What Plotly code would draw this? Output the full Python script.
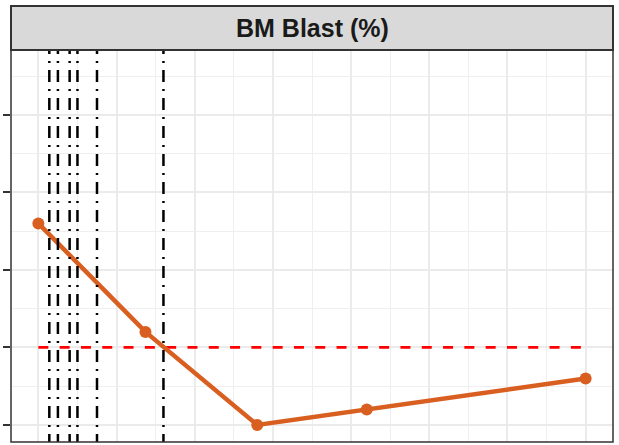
import plotly.graph_objects as go

# Data
days = [0, 137, 280, 420, 700]
bm_blast = [13, 6, 0, 1, 3]
threshold_x = [0, 700]
threshold_y = [5, 5]
event_days = [14, 25, 40, 50, 75, 160]
facet_title = "BM Blast (%)"

W, H = 619, 445
ml, mr, mt, mb = 11, 6, 50, 3
plot_h = H - mt - mb
strip_top = 6
strip_y1 = 1 + (mt - strip_top) / plot_h

orange = "#D95F20"

fig = go.Figure()

# red threshold line
fig.add_trace(go.Scatter(
    x=threshold_x, y=threshold_y, mode="lines",
    line=dict(color="#FF0000", width=2.8, dash="10px,11.3px"),
    hoverinfo="skip", showlegend=False))

# main series
fig.add_trace(go.Scatter(
    x=days, y=bm_blast, mode="lines+markers",
    line=dict(color=orange, width=4.5),
    marker=dict(color=orange, size=12, line=dict(width=0)),
    showlegend=False))

# vertical event lines (dot-dash), extended beyond the panel and clipped
vx, vy = [], []
for d in event_days:
    vx += [d, d, None]
    vy += [27.1, -3, None]
fig.add_trace(go.Scatter(
    x=vx, y=vy, mode="lines",
    line=dict(color="#000000", width=2.5, dash="2px,7px,12px,7px"),
    hoverinfo="skip", showlegend=False))

fig.update_layout(
    width=W, height=H,
    margin=dict(l=ml, r=mr, t=mt, b=mb),
    paper_bgcolor="white", plot_bgcolor="white",
    font=dict(family="Liberation Sans, Arial, sans-serif"),
    showlegend=False,
    xaxis=dict(
        range=[-35, 735], tick0=0, dtick=100,
        showgrid=True, gridcolor="#EBEBEB", gridwidth=2,
        zeroline=False, showticklabels=False, ticks="",
        showline=False,
        minor=dict(tick0=0, dtick=50, showgrid=True,
                   gridcolor="#EFEFEF", gridwidth=1, ticks=""),
    ),
    yaxis=dict(
        range=[-1.10, 24.19], tick0=0, dtick=5,
        showgrid=True, gridcolor="#EBEBEB", gridwidth=2,
        zeroline=False, showticklabels=False,
        ticks="outside", ticklen=7, tickwidth=2, tickcolor="#333333",
        showline=False,
        minor=dict(tick0=0, dtick=2.5, showgrid=True,
                   gridcolor="#EFEFEF", gridwidth=1, ticks=""),
    ),
    shapes=[
        dict(type="rect", xref="paper", yref="paper",
             x0=0, x1=1, y0=1, y1=strip_y1,
             fillcolor="#D9D9D9", line=dict(color="#333333", width=2),
             layer="above"),
        dict(type="rect", xref="paper", yref="paper",
             x0=0, x1=1, y0=0, y1=1,
             fillcolor="rgba(0,0,0,0)", line=dict(color="#333333", width=1.5),
             layer="above"),
    ],
    annotations=[
        dict(text="<b>" + facet_title + "</b>", xref="paper", yref="paper",
             x=0.5, y=(1 + strip_y1) / 2, xanchor="center", yanchor="middle",
             showarrow=False,
             font=dict(size=25, color="#1A1A1A",
                       family="Liberation Sans, Arial, sans-serif")),
    ],
)

fig.write_html(
    "out.html",
    config={"displayModeBar": False},
    post_script="document.body.style.margin='0';document.body.style.overflow='hidden';",
)
